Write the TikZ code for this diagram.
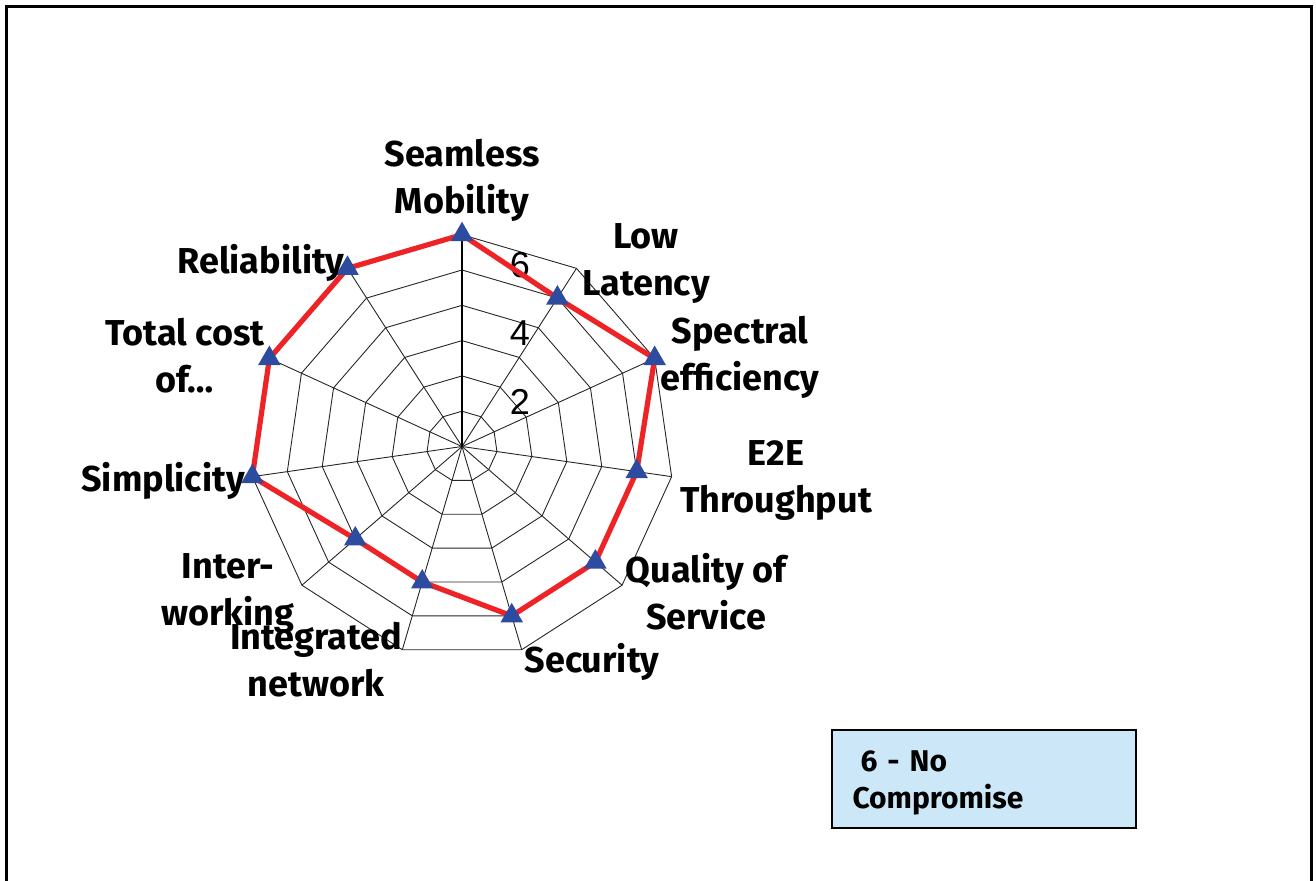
\documentclass[tikz,border=0pt]{standalone}
\usepackage{fontspec}
\setmainfont{Fira Sans}
\newfontfamily\numfont{Liberation Sans}
\usetikzlibrary{shapes.geometric}

\definecolor{seriesred}{HTML}{EE2326}
\definecolor{markerblue}{HTML}{2D4B9F}
\definecolor{legendfill}{HTML}{CCE8F8}

\begin{document}
\begin{tikzpicture}[
    x = 0.5pt,
    y = -0.5pt,
    axislabel/.style = {font=\bfseries\fontsize{18}{23.5}\selectfont, align=center, inner sep=0pt},
    ticklabel/.style = {font=\numfont\fontsize{18}{20}\selectfont, inner sep=0pt},
    gridline/.style = {black!85, line width=0.45pt},
    series/.style = {seriesred, line width=2.6pt, line join=round},
    marker/.style = {regular polygon, regular polygon sides=3, fill=markerblue,
                     inner sep=0pt, minimum size=13pt},
    legendbox/.style = {draw=black, line width=1pt, fill=legendfill,
                        minimum width=152pt, minimum height=49pt},
    legendtext/.style = {align=left, inner sep=0pt, text width=133pt,
                         font=\bfseries\fontsize{15}{18.5}\selectfont},
    ]

    \useasboundingbox (0,0) rectangle (1316,880);

    % outer frame
    \draw[line width=1.5pt] (6,884) -- (6,6) -- (1311,6) -- (1311,884);

    \def\unit{35.3}
    \begin{scope}[shift={(462,446.5)}]
        % rings
        \foreach \r in {1,...,6}
            \draw[gridline] (0,{-\unit*\r})
                \foreach \i in {1,...,10} { -- ({\unit*\r*sin(\i*360/11)},{-\unit*\r*cos(\i*360/11)}) }
                -- cycle;
        % spokes
        \foreach \i in {1,...,10}
            \draw[gridline] (0,0) -- ({6*\unit*sin(\i*360/11)},{-6*\unit*cos(\i*360/11)});
        \draw[black, line width=0.8pt] (0,0) -- (0,{-6*\unit});

        % data points
        \foreach \v [count=\i from 0] in {6,5,6,5,5,5,4,4,6,6,6}
            \coordinate (p\i) at ({\v*\unit*sin(\i*360/11)},{-\v*\unit*cos(\i*360/11)});
    \end{scope}

    \node[ticklabel] (t6) at (520,265) {6};
    \node[ticklabel] (t4) at (520,333) {4};
    \node[ticklabel] (t2) at (520,402) {2};

    \draw[series] (p0) -- (p1) -- (p2) -- (p3) -- (p4) -- (p5) -- (p6)
        -- (p7) -- (p8) -- (p9) -- (p10) -- cycle;
    \foreach \i in {0,...,10}
        \node[marker] (m\i) at (p\i) {};

    % axis labels
    \node[axislabel] (mobility)    at (462,180) {Seamless\\Mobility};
    \node[axislabel] (latency)     at (646,264) {Low\\Latency};
    \node[axislabel] (spectral)    at (740,357) {Spectral\\efficiency};
    \node[axislabel] (throughput)  at (776,481) {E2E\\Throughput};
    \node[axislabel] (qos)         at (706,592) {Quality of\\Service};
    \node[axislabel] (security)    at (592,662) {Security};
    \node[axislabel] (integrated)  at (316,660) {Integrated\\network};
    \node[axislabel] (interwork)   at (228,594) {Inter-\\working};
    \node[axislabel] (simplicity)  at (163,481) {Simplicity};
    \node[axislabel] (cost)        at (185,356) {Total cost\\of\ldots};
    \node[axislabel] (reliability) at (261,263) {Reliability};

    % legend
    \node[legendbox] (legend) at (984,779) {};
    \node[legendtext] (legendlbl) at (985.5,783) {\hspace{4pt}6 - No\\Compromise};
\end{tikzpicture}
\end{document}
